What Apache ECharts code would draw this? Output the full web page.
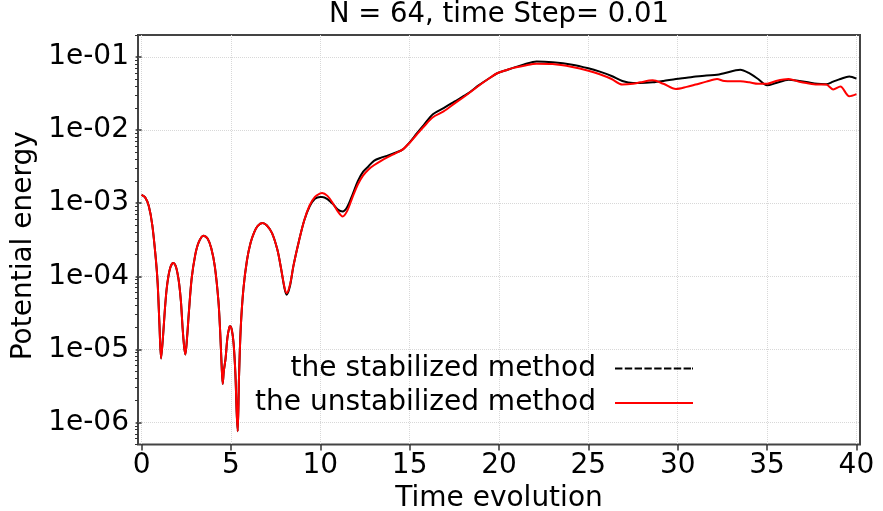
<!DOCTYPE html>
<html><head><meta charset="utf-8">
<script src="https://cdn.jsdelivr.net/npm/echarts@6/dist/echarts.min.js"></script>
<style>html,body{margin:0;padding:0;background:#fff}#c{width:883px;height:511px}</style>
</head><body><div id="c"></div>
<script>
const chartTitle = 'N = 64, time Step= 0.01';
const xName = 'Time evolution';
const yName = 'Potential energy';
const seriesNames = ['the stabilized method', 'the unstabilized method'];

const time = [0, 0.2, 0.4, 0.6, 0.8, 0.9, 1.0, 1.09, 1.2, 1.3, 1.4, 1.5, 1.6, 1.7, 1.78, 1.9, 2.0, 2.1, 2.2, 2.3, 2.38, 2.45,
  2.55, 2.65, 2.8, 3.0, 3.2, 3.46, 3.7, 3.9, 4.1, 4.3, 4.4, 4.48, 4.54, 4.6, 4.7, 4.8, 4.9, 4.95, 5.05, 5.15, 5.25, 5.32, 5.38,
  5.45, 5.55, 5.7, 5.9, 6.1, 6.3, 6.5, 6.76, 7.0, 7.3, 7.6, 7.8, 8.0, 8.12, 8.3, 8.5, 8.8, 9.1, 9.4, 9.7, 10.0, 10.1, 10.4,
  10.7, 11.0, 11.25, 11.5, 11.8, 12.1, 12.4, 12.7, 13.0, 13.4, 13.8, 14.2, 14.6, 15.0, 15.4, 15.8, 16.3, 16.9, 17.5, 18.2,
  18.9, 19.5, 19.9, 20.4, 20.8, 21.4, 22.1, 23.0, 24.1, 25.0, 25.6, 26.3, 26.9, 27.5, 27.9, 28.6, 29.2, 29.9, 30.5, 31.0,
  31.6, 32.2, 32.6, 33.5, 34.0, 34.5, 35.0, 35.5, 36.2, 36.8, 37.2, 37.8, 38.3, 38.7, 39.1, 39.6, 40.0];

const stabilized = [1.3e-3, 1.2e-3, 9.2e-4, 5.0e-4, 1.7e-4, 8.0e-5, 2.2e-5, 7.5e-6, 1.5e-5, 3.4e-5, 6.6e-5, 1.0e-4, 1.3e-4, 1.48e-4, 1.52e-4, 1.4e-4, 1.13e-4, 8.0e-5, 4.6e-5, 1.9e-5, 1.1e-5, 8.5e-6,
  1.5e-5, 3.3e-5, 9.2e-5, 1.95e-4, 2.93e-4, 3.6e-4, 3.27e-4, 2.42e-4, 1.36e-4, 4.6e-5, 1.7e-5, 6e-6, 3.37e-6, 5e-6, 7.5e-6, 1.42e-5, 1.97e-5, 2.07e-5, 1.85e-5, 1.2e-5, 4.6e-6, 1.4e-6, 7.6e-7,
  4.0e-6, 2.0e-5, 6.8e-5, 1.67e-4, 2.87e-4, 4.0e-4, 4.9e-4, 5.36e-4, 5.0e-4, 3.9e-4, 2.3e-4, 1.3e-4, 6.8e-5, 5.6e-5, 7.3e-5, 1.4e-4, 3.0e-4, 5.8e-4, 9.0e-4, 1.15e-3, 1.22e-3, 1.22e-3, 1.14e-3,
  9.8e-4, 8.1e-4, 7.7e-4, 8.8e-4, 1.3e-3, 2.0e-3, 2.7e-3, 3.2e-3, 3.8e-3, 4.2e-3, 4.5e-3, 4.9e-3, 5.4e-3, 6.8e-3, 9.0e-3, 1.18e-2, 1.65e-2, 2.0e-2, 2.45e-2, 3.1e-2,
  4.15e-2, 5.2e-2, 6.0e-2, 6.6e-2, 7.1e-2, 7.9e-2, 8.7e-2, 8.5e-2, 7.85e-2, 7.0e-2, 6.35e-2, 5.5e-2, 4.7e-2, 4.4e-2, 4.4e-2, 4.5e-2, 4.7e-2, 5.0e-2, 5.2e-2, 5.4e-2,
  5.6e-2, 5.7e-2, 6.0e-2, 6.7e-2, 6.0e-2, 5.0e-2, 4.1e-2, 4.4e-2, 4.9e-2, 4.7e-2, 4.55e-2, 4.3e-2, 4.25e-2, 4.6e-2, 5.0e-2, 5.4e-2, 5.05e-2];

const unstabilized = [1.3e-3, 1.2e-3, 9.2e-4, 5.0e-4, 1.7e-4, 8.0e-5, 2.2e-5, 7.5e-6, 1.5e-5, 3.4e-5, 6.6e-5, 1.0e-4, 1.3e-4, 1.48e-4, 1.52e-4, 1.4e-4, 1.13e-4, 8.0e-5, 4.6e-5, 1.9e-5, 1.1e-5, 8.5e-6,
  1.5e-5, 3.3e-5, 9.2e-5, 1.95e-4, 2.93e-4, 3.6e-4, 3.27e-4, 2.42e-4, 1.36e-4, 4.6e-5, 1.7e-5, 6e-6, 3.37e-6, 5e-6, 7.5e-6, 1.42e-5, 1.97e-5, 2.07e-5, 1.85e-5, 1.2e-5, 4.6e-6, 1.4e-6, 7.6e-7,
  4.0e-6, 2.0e-5, 6.8e-5, 1.67e-4, 2.87e-4, 4.0e-4, 4.9e-4, 5.36e-4, 5.0e-4, 3.9e-4, 2.3e-4, 1.3e-4, 7.0e-5, 5.9e-5, 7.6e-5, 1.4e-4, 3.0e-4, 5.8e-4, 9.3e-4, 1.22e-3, 1.36e-3, 1.38e-3, 1.26e-3,
  1.0e-3, 7.6e-4, 6.6e-4, 7.8e-4, 1.2e-3, 1.8e-3, 2.4e-3, 2.9e-3, 3.3e-3, 3.8e-3, 4.3e-3, 4.8e-3, 5.4e-3, 6.7e-3, 8.7e-3, 1.12e-2, 1.5e-2, 1.8e-2, 2.3e-2, 3.05e-2,
  4.1e-2, 5.2e-2, 6.0e-2, 6.6e-2, 7.1e-2, 7.6e-2, 8.1e-2, 8.0e-2, 7.3e-2, 6.5e-2, 5.85e-2, 5.0e-2, 4.2e-2, 4.3e-2, 4.5e-2, 4.8e-2, 4.3e-2, 3.65e-2, 3.9e-2, 4.2e-2,
  4.6e-2, 5.0e-2, 4.7e-2, 4.65e-2, 4.5e-2, 4.3e-2, 4.3e-2, 4.7e-2, 5.0e-2, 4.6e-2, 4.4e-2, 4.2e-2, 4.2e-2, 3.6e-2, 3.95e-2, 2.9e-2, 3.1e-2];

const xTicks = [0, 5, 10, 15, 20, 25, 30, 35, 40];
const yTicks = [1e-6, 1e-5, 1e-4, 1e-3, 1e-2, 1e-1];
const xRange = [-0.2, 40.2];
const yRange = [5e-7, 0.2];

const FONT = 'DejaVu Sans';
const FS = 28;
const lg = Math.log10;
const yMinorTicks = [];
for (let d = -7; d <= -1; d++) {
  for (let k = 2; k <= 9; k++) {
    const v = lg(k) + d;
    if (v >= lg(yRange[0]) && v <= lg(yRange[1])) yMinorTicks.push(v);
  }
}
const fmtY = v => '1e-' + String(-Math.round(v)).padStart(2, '0');

let dashPath = 'path://';
for (let i = 0; i < 8; i++) dashPath += 'M' + (i * 9.8) + ',0h7.4v2h-7.4z';
dashPath += 'M77,0h1v2h-1z';

const chart = echarts.init(document.getElementById('c'), null, {renderer: 'canvas'});
const tickStyle = {color: '#333', width: 1.5};
chart.setOption({
  animation: false,
  backgroundColor: '#fff',
  title: {
    text: chartTitle, left: 499, top: 1, textAlign: 'center', padding: 0,
    textStyle: {fontFamily: FONT, fontSize: 27.5, fontWeight: 'normal', color: '#000'}
  },
  grid: {left: 138, right: 23, top: 35, bottom: 66.5, show: true, borderColor: '#444', borderWidth: 2,
         containLabel: false, outerBoundsMode: 'none'},
  legend: {
    orient: 'vertical', align: 'right', right: 190, top: 354.5, itemGap: 6.5, padding: 0,
    itemWidth: 78, itemHeight: 2,
    itemStyle: {borderWidth: 0},
    textStyle: {fontFamily: FONT, fontSize: FS, color: '#000', padding: [0, 14, 0, 0]},
    data: [
      {name: seriesNames[0], icon: dashPath, itemStyle: {color: '#000', borderWidth: 0}},
      {name: seriesNames[1], icon: 'path://M0,0H78V2H0Z', itemStyle: {color: '#ff0000', borderWidth: 0}}
    ]
  },
  xAxis: {
    type: 'value', min: xRange[0], max: xRange[1],
    name: xName, nameLocation: 'middle', nameGap: 38,
    nameTextStyle: {fontFamily: FONT, fontSize: FS, color: '#000'},
    axisLine: {show: false},
    axisTick: {show: true, customValues: xTicks, length: 6, lineStyle: tickStyle},
    axisLabel: {customValues: xTicks, fontFamily: FONT, fontSize: FS, color: '#000', margin: 7},
    splitLine: {show: true, lineStyle: {color: '#d8d8d8', type: 'dotted', width: 1}}
  },
  yAxis: [{
    type: 'value', min: lg(yRange[0]), max: lg(yRange[1]),
    name: yName, nameLocation: 'middle', nameGap: 100,
    nameTextStyle: {fontFamily: FONT, fontSize: FS, color: '#000', padding: [0, 12, 0, 0]},
    axisLine: {show: false},
    axisTick: {show: true, customValues: yTicks.map(lg), length: 6, lineStyle: tickStyle},
    axisLabel: {customValues: yTicks.map(lg), formatter: fmtY, fontFamily: FONT, fontSize: FS, color: '#000', margin: 9},
    splitLine: {show: true, lineStyle: {color: '#d8d8d8', type: 'dotted', width: 1}}
  }, {
    type: 'value', min: lg(yRange[0]), max: lg(yRange[1]), position: 'left',
    axisLine: {show: false},
    axisTick: {show: true, customValues: yMinorTicks, length: 3, lineStyle: {color: '#333', width: 1}},
    axisLabel: {show: false},
    splitLine: {show: false}
  }],
  series: [
    {name: seriesNames[0], type: 'line', yAxisIndex: 0, symbol: 'none', showSymbol: false, smooth: 0.3,
     lineStyle: {color: '#000', width: 2}, itemStyle: {color: '#000'},
     data: time.map((t, i) => [t, lg(stabilized[i])])},
    {name: seriesNames[1], type: 'line', yAxisIndex: 0, symbol: 'none', showSymbol: false, smooth: 0.3,
     lineStyle: {color: '#ff0000', width: 2}, itemStyle: {color: '#ff0000'},
     data: time.map((t, i) => [t, lg(unstabilized[i])])}
  ]
});
</script>
</body></html>
